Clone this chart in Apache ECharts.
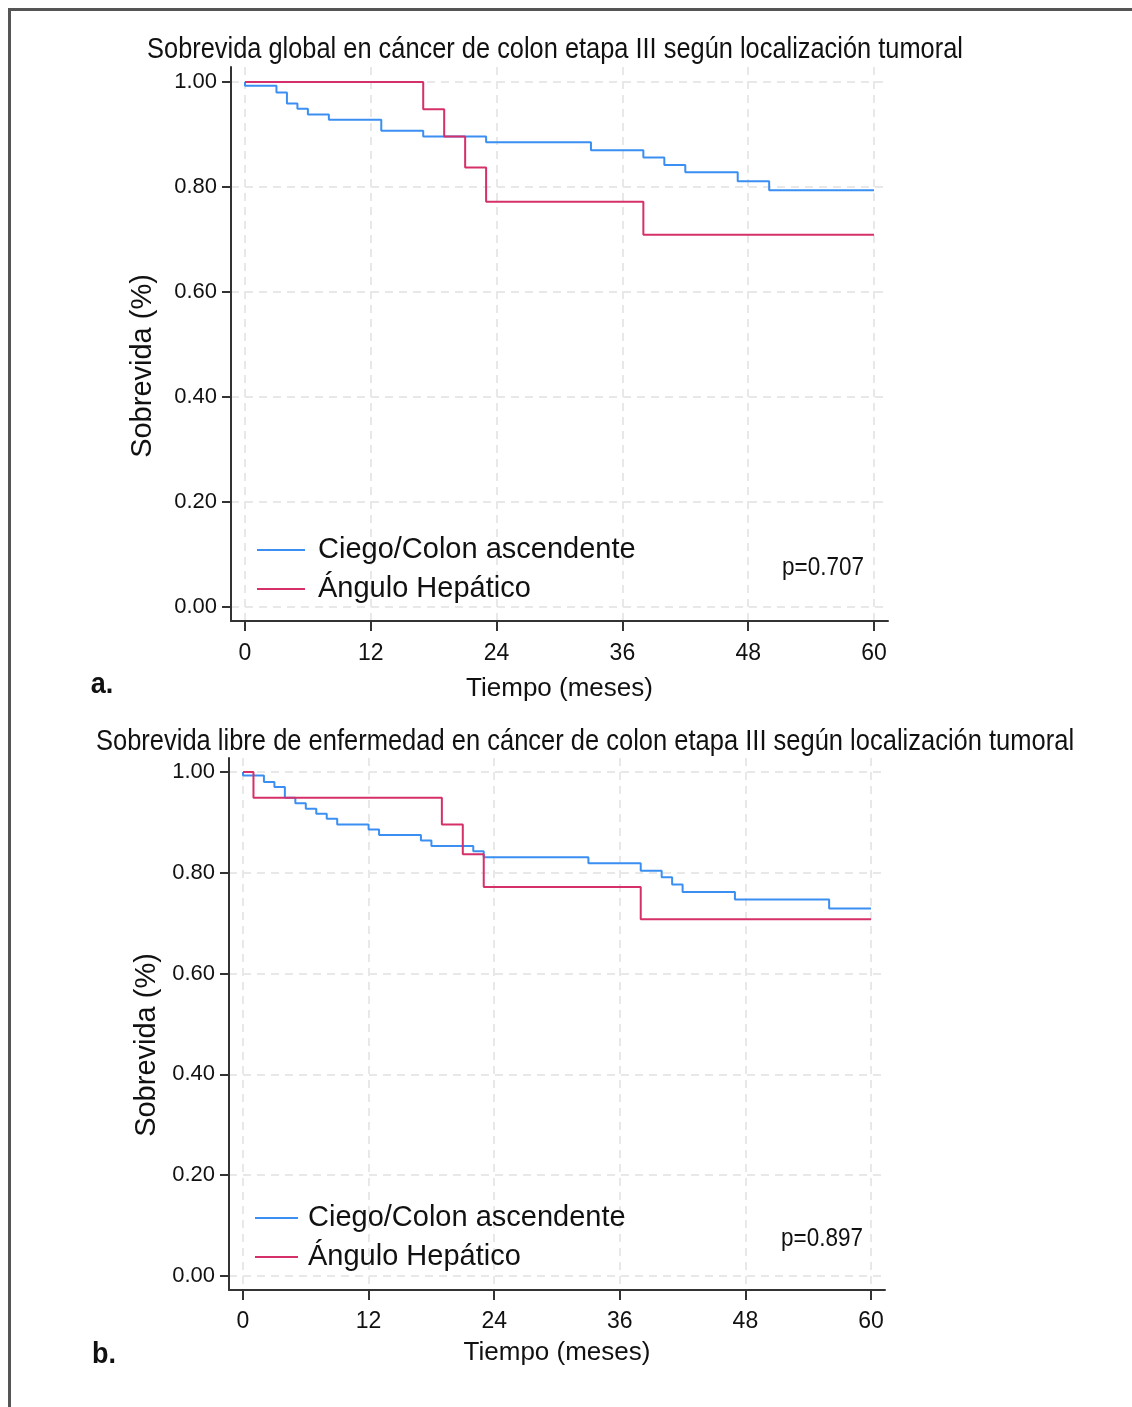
<!DOCTYPE html>
<html>
<head>
<meta charset="utf-8">
<script src="https://cdn.jsdelivr.net/npm/echarts@6/dist/echarts.min.js"></script>
<style>
  html, body { margin: 0; padding: 0; background: #fff; }
  #km { width: 1132px; height: 1407px; }
</style>
</head>
<body>
<div id="km"></div>
<script>
var chart = echarts.init(document.getElementById('km'));

// a. sobrevida global
var ogTimeBlue = [0, 0, 3, 4, 5, 6, 8, 13, 17, 23, 33, 38, 40, 42, 47, 50, 60];
var ogSurvBlue = [1.0, 0.993, 0.980, 0.959, 0.949, 0.938, 0.928, 0.907, 0.896, 0.885, 0.870, 0.856, 0.842, 0.828, 0.811, 0.794, 0.794];
var ogTimeRed = [0, 17, 19, 21, 23, 38, 60];
var ogSurvRed = [1.0, 0.948, 0.896, 0.837, 0.772, 0.709, 0.709];

// b. sobrevida libre de enfermedad
var dfsTimeBlue = [0, 0, 2, 3, 4, 5, 6, 7, 8, 9, 12, 13, 17, 18, 22, 23, 33, 38, 40, 41, 42, 47, 56, 60];
var dfsSurvBlue = [1.0, 0.993, 0.980, 0.970, 0.949, 0.938, 0.927, 0.917, 0.907, 0.896, 0.886, 0.875, 0.864, 0.853, 0.843, 0.831, 0.819, 0.804, 0.791, 0.777, 0.762, 0.747, 0.729, 0.729];
var dfsTimeRed = [0, 1, 19, 21, 23, 38, 60];
var dfsSurvRed = [1.0, 0.949, 0.896, 0.837, 0.772, 0.708, 0.708];

var xTicks = [0, 12, 24, 36, 48, 60];
var yTicks = [0, 0.2, 0.4, 0.6, 0.8, 1.0];
var seriesNames = ['Ciego/Colon ascendente', 'Ángulo Hepático'];
var pValues = ['p=0.707', 'p=0.897'];
var titles = [
    'Sobrevida global en cáncer de colon etapa III según localización tumoral',
    'Sobrevida libre de enfermedad en cáncer de colon etapa III según localización tumoral'
];

var BLUE = '#3b8ef2';
var RED = '#d6306a';
var FONT = '"Liberation Sans", Arial, sans-serif';

function pairs(t, s) {
    return t.map(function (v, i) { return [v, s[i]]; });
}

function xAxisOf(idx, min, max, labelMargin, nameGap) {
    return {
        type: 'value', gridIndex: idx, min: min, max: max,
        name: 'Tiempo (meses)', nameLocation: 'middle', nameGap: nameGap,
        nameTextStyle: { fontFamily: FONT, fontSize: 26, color: '#111' },
        axisLine: { show: true, onZero: false, lineStyle: { color: '#333', width: 2 } },
        axisTick: { show: true, length: 10, customValues: xTicks, lineStyle: { color: '#333', width: 2 } },
        axisLabel: { customValues: xTicks, margin: labelMargin, fontFamily: FONT, fontSize: 23, color: '#111' },
        splitLine: { show: true, lineStyle: { color: '#e8e8e8', width: 2, type: [8, 6] } }
    };
}

function yAxisOf(idx, min, max, nameGap, shift) {
    return {
        type: 'value', gridIndex: idx, min: min, max: max,
        name: 'Sobrevida (%)', nameLocation: 'middle', nameGap: nameGap,
        nameTextStyle: { fontFamily: FONT, fontSize: 29, color: '#111', padding: [0, shift, 0, 0] },
        axisLine: { show: true, onZero: false, lineStyle: { color: '#333', width: 2 } },
        axisTick: { show: true, length: 9, customValues: yTicks, lineStyle: { color: '#333', width: 2 } },
        axisLabel: {
            customValues: yTicks, margin: 14, fontFamily: FONT, fontSize: 22, color: '#111',
            formatter: function (v) { return v.toFixed(2); }
        },
        splitLine: { show: true, lineStyle: { color: '#e8e8e8', width: 2, type: [8, 6] } }
    };
}

function kmSeries(name, data, color, idx) {
    return {
        name: name, type: 'line', step: 'end', xAxisIndex: idx, yAxisIndex: idx,
        showSymbol: false, symbol: 'none', animation: false,
        lineStyle: { color: color, width: 2 }, itemStyle: { color: color },
        data: data
    };
}

function legendOf(top, left, w, gap) {
    return {
        data: seriesNames.map(function (n) { return { name: n, icon: 'rect' }; }),
        orient: 'vertical', left: left, top: top, padding: 0,
        itemWidth: w, itemHeight: 2, itemGap: 3, selectedMode: false,
        textStyle: { fontFamily: FONT, fontSize: 29, color: '#111', lineHeight: 36, padding: [0, 0, 0, gap] }
    };
}

// stretched text, like the tall narrow lettering of the original
function label(txt, x, y, size, sy, bold) {
    return {
        type: 'text', x: x, y: y, scaleY: sy, silent: true,
        style: {
            text: txt, x: 0, y: 0, fill: '#111',
            font: (bold ? 'bold ' : '') + size + 'px ' + FONT,
            textAlign: 'center', textVerticalAlign: 'middle',
            align: 'center', verticalAlign: 'middle'
        }
    };
}

var option = {
    animation: false,
    legend: [
        legendOf(532, 257, 48, 8),
        legendOf(1200, 255, 43, 5)
    ],
    grid: [
        { left: 231, right: 244, top: 67, bottom: 786 },
        { left: 229, right: 247, top: 758, bottom: 117 }
    ],
    xAxis: [
        xAxisOf(0, -1.3355, 61.3355, 21, 55),
        xAxisOf(1, -1.3376, 61.3376, 20, 50)
    ],
    yAxis: [
        yAxisOf(0, -0.02667, 1.02857, 74, 44),
        yAxisOf(1, -0.02778, 1.02778, 54, 42)
    ],
    series: [
        kmSeries(seriesNames[0], pairs(ogTimeBlue, ogSurvBlue), BLUE, 0),
        kmSeries(seriesNames[1], pairs(ogTimeRed, ogSurvRed), RED, 0),
        kmSeries(seriesNames[0], pairs(dfsTimeBlue, dfsSurvBlue), BLUE, 1),
        kmSeries(seriesNames[1], pairs(dfsTimeRed, dfsSurvRed), RED, 1)
    ],
    graphic: [
        { type: 'rect', shape: { x: 9.5, y: 9.5, width: 1200, height: 1500 },
          style: { fill: 'none', stroke: '#555', lineWidth: 3 }, silent: true },
        label(titles[0], 555, 50, 25.4, 1.18, false),
        label(titles[1], 585, 742, 25.5, 1.18, false),
        label(pValues[0], 823, 568, 22.5, 1.18, false),
        label(pValues[1], 822, 1239, 22.5, 1.18, false),
        label('a.', 102, 685, 27, 1.1, true),
        label('b.', 104, 1355, 27, 1.1, true)
    ]
};

chart.setOption(option);
</script>
</body>
</html>
